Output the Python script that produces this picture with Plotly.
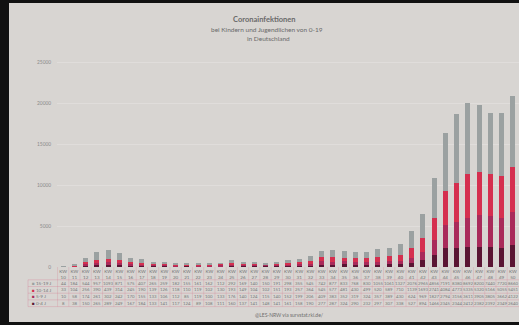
import plotly.graph_objects as go

weeks = list(range(10, 51))
tick_labels = [f"KW<br>{w}" for w in weeks]
y_ticks = [0, 5000, 10000, 15000, 20000, 25000]

age_groups = ["15-19 J", "10-14 J", "5-9 J", "0-4 J"]

a15_19 = [44, 184, 544, 957, 1093, 871, 575, 407, 265, 259, 182,
          155, 161, 162, 112, 292, 169, 140, 150, 191, 298, 355, 545, 742, 877, 833,
          768, 830, 1055, 1061, 1327, 2076, 2965, 4856, 7191, 8380, 8692, 8200, 7440, 7720, 8660]
a10_14 = [33, 104, 256, 390, 439, 314, 245, 190, 139, 126, 118,
          110, 119, 102, 130, 193, 149, 104, 102, 151, 193, 257, 364, 545, 577, 481,
          430, 499, 520, 589, 710, 1139, 1693, 2741, 4084, 4773, 5335, 5320, 5166, 5055, 5451]
a5_9 = [10, 58, 174, 261, 302, 242, 170, 155, 133, 106, 112,
        85, 119, 100, 133, 176, 140, 124, 115, 140, 152, 199, 206, 409, 383, 352,
        319, 324, 357, 389, 430, 624, 969, 1827, 2794, 3156, 3611, 3905, 3805, 3662, 4122]
a0_4 = [8, 38, 150, 265, 289, 249, 167, 184, 133, 141, 117,
        124, 89, 108, 111, 160, 137, 141, 148, 141, 161, 158, 190, 277, 287, 324,
        290, 232, 297, 307, 338, 527, 894, 1466, 2345, 2344, 2412, 2382, 2392, 2349, 2640]

series = [a15_19, a10_14, a5_9, a0_4]
colors = ["#9ba1a1", "#d52f4f", "#a92a5a", "#5a1533"]

BG = "#d8d5d2"
W, H = 519, 325
ML, MR, MT, MB = 57, 0, 54, 58
PW, PH = W - ML - MR, H - MT - MB

def px_x(px):
    return (px - ML) / PW

def px_y(py):
    return (H - MB - py) / PH

fig = go.Figure()
n = len(weeks)
xs = list(range(n))
for name, vals, col in reversed(list(zip(age_groups, series, colors))):
    fig.add_trace(go.Bar(x=xs, y=vals, name=name, marker=dict(color=col, line=dict(width=0)),
                         showlegend=False))

ann = []
ann.append(dict(text="<b>Coronainfektionen</b>", x=px_x(264), y=px_y(19), xref="paper", yref="paper",
                showarrow=False, font=dict(size=7.5, color="#6a6a6a"), xanchor="center", yanchor="middle"))
ann.append(dict(text="bei Kindern und Jugendlichen von 0-19", x=px_x(267), y=px_y(29), xref="paper", yref="paper",
                showarrow=False, font=dict(size=6.5, color="#6a6a6a"), xanchor="center", yanchor="middle"))
ann.append(dict(text="in Deutschland", x=px_x(268), y=px_y(38), xref="paper", yref="paper",
                showarrow=False, font=dict(size=6.5, color="#6a6a6a"), xanchor="center", yanchor="middle"))

row_y = [283, 289.7, 296.4, 303.2]
for name, vals, col, ry in zip(age_groups, series, colors, row_y):
    ann.append(dict(text=f"<span style='color:{col}'>■</span> {name}", x=px_x(30), y=px_y(ry),
                    xref="paper", yref="paper", showarrow=False, xanchor="left", yanchor="middle",
                    font=dict(size=4.6, color="#777777")))
    for i, v in enumerate(vals):
        ann.append(dict(text=str(v), x=i, y=px_y(ry), xref="x", yref="paper", showarrow=False,
                        xanchor="center", yanchor="middle", font=dict(size=4.3, color="#7a7a7a")))

ann.append(dict(text="@LES-NRW via survstat.rki.de/", x=px_x(289), y=px_y(315), xref="paper", yref="paper",
                showarrow=False, font=dict(size=5, color="#6e6e6e"), xanchor="center", yanchor="middle"))

shapes = []
line_col = "rgba(215,110,135,0.45)"
for hy in [279.8, 286.5, 293.2, 299.9, 306.6]:
    shapes.append(dict(type="line", xref="paper", yref="paper", x0=px_x(28), x1=1.0,
                       y0=px_y(hy), y1=px_y(hy), line=dict(color=line_col, width=0.6)))
for i in range(n):
    shapes.append(dict(type="line", xref="x", yref="paper", x0=i - 0.5, x1=i - 0.5,
                       y0=px_y(267), y1=px_y(306.6), line=dict(color=line_col, width=0.5)))
shapes.append(dict(type="line", xref="paper", yref="paper", x0=px_x(28), x1=px_x(28),
                   y0=px_y(279.8), y1=px_y(306.6), line=dict(color=line_col, width=0.6)))
# photo frame
shapes.append(dict(type="rect", xref="paper", yref="paper", x0=px_x(0), x1=px_x(9), y0=px_y(H), y1=px_y(0),
                   fillcolor="#111111", line=dict(width=0), layer="above"))
shapes.append(dict(type="rect", xref="paper", yref="paper", x0=px_x(0), x1=px_x(W), y0=px_y(3), y1=px_y(0),
                   fillcolor="#111111", line=dict(width=0), layer="above"))
shapes.append(dict(type="rect", xref="paper", yref="paper", x0=px_x(0), x1=px_x(W), y0=px_y(H), y1=px_y(322),
                   fillcolor="#111111", line=dict(width=0), layer="above"))

fig.update_layout(
    width=W, height=H,
    margin=dict(l=ML, r=MR, t=MT, b=MB, pad=0),
    paper_bgcolor=BG, plot_bgcolor=BG,
    barmode="stack", bargap=0.55,
    font=dict(family="Lato, sans-serif", color="#777777"),
    annotations=ann, shapes=shapes,
    xaxis=dict(range=[-0.55, n - 0.45], tickmode="array", tickvals=xs, ticktext=tick_labels,
               tickfont=dict(size=4.6, color="#777777"), showgrid=False, zeroline=False,
               ticks="", showline=False, tickangle=0),
    yaxis=dict(range=[0, 26000], tickmode="array", tickvals=y_ticks, ticktext=[str(t) for t in y_ticks],
               tickfont=dict(size=4.8, color="#8a8a8a"), showgrid=True, gridcolor="#e0dddb",
               gridwidth=0.5, zeroline=False, ticks="", ticklabelstandoff=5),
)

css_js = ("var s=document.createElement('style');"
          "s.textContent='html,body{margin:0;padding:0;overflow:hidden;scrollbar-width:none;}"
          "::-webkit-scrollbar{display:none;width:0;height:0;}';"
          "document.head.appendChild(s);")
fig.write_html("out.html", config={"displayModeBar": False}, post_script=css_js)
